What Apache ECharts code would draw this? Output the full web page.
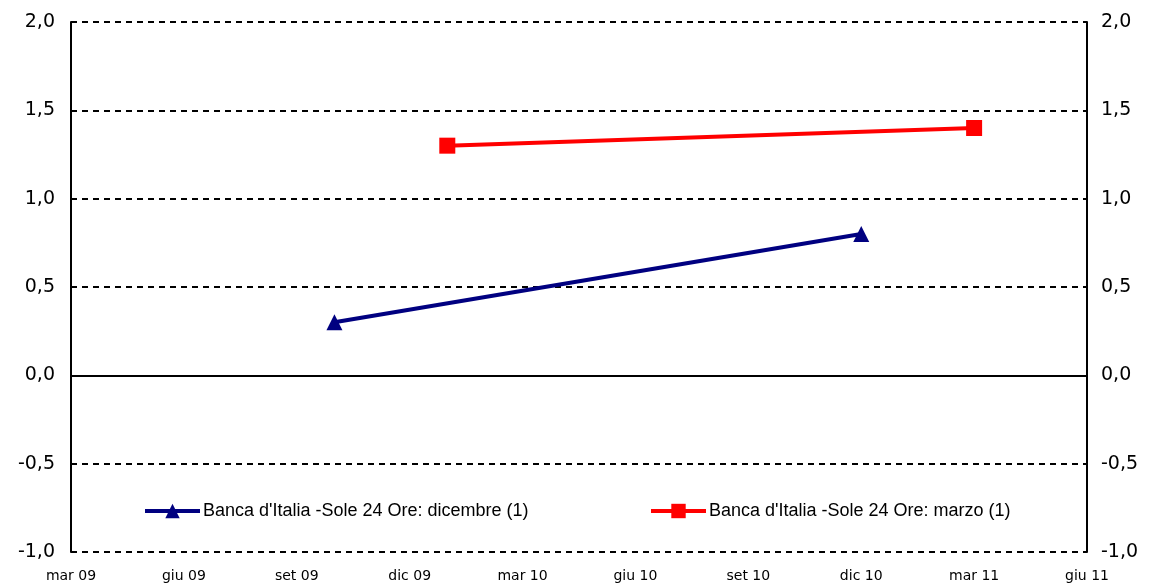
<!DOCTYPE html>
<html><head><meta charset="utf-8">
<script src="https://cdn.jsdelivr.net/npm/echarts@6/dist/echarts.min.js"></script>
<style>html,body{margin:0;padding:0;background:#fff}#c{width:1151px;height:585px}</style>
</head><body><div id="c"></div>
<script>
var months = ["mar 09","apr 09","mag 09","giu 09","lug 09","ago 09","set 09","ott 09","nov 09","dic 09",
  "gen 10","feb 10","mar 10","apr 10","mag 10","giu 10","lug 10","ago 10","set 10","ott 10","nov 10","dic 10",
  "gen 11","feb 11","mar 11","apr 11","mag 11","giu 11"];
var nameDic = "Banca d'Italia -Sole 24 Ore: dicembre (1)";
var nameMar = "Banca d'Italia -Sole 24 Ore: marzo (1)";
var dicPoints = [["ott 09", 0.3], ["dic 10", 0.8]];
var marPoints = [["gen 10", 1.3], ["mar 11", 1.4]];
var yMin = -1, yMax = 2, yStep = 0.5;

function fmt(v){ return v.toFixed(1).replace('.', ','); }
var chart = echarts.init(document.getElementById('c'));
var labelFont = 'DejaVu Sans, Verdana, sans-serif';
var legendFont = 'Liberation Sans, Arial, sans-serif';
chart.setOption({
  animation: false,
  backgroundColor: '#fff',
  grid: {left: 71, right: 64, top: 22, bottom: 33, containLabel: false},
  xAxis: {
    type: 'category', data: months, boundaryGap: false,
    axisLine: {show: false}, axisTick: {show: false},
    axisLabel: {interval: 2, color: '#000', fontSize: 14, fontFamily: labelFont, margin: 17},
    splitLine: {show: false}
  },
  yAxis: [{
    type: 'value', min: yMin, max: yMax, interval: yStep, position: 'left',
    axisLine: {show: true, lineStyle: {color: '#000', width: 2}},
    axisTick: {show: true, inside: true, length: 4, lineStyle: {color: '#000', width: 1}},
    axisLabel: {formatter: fmt, color: '#000', fontSize: 19, fontFamily: labelFont, margin: 16},
    splitLine: {show: true, lineStyle: {color: '#000', width: 2, type: [6, 5]}}
  }, {
    type: 'value', min: yMin, max: yMax, interval: yStep, position: 'right',
    axisLine: {show: true, lineStyle: {color: '#000', width: 2}},
    axisTick: {show: true, inside: true, length: 4, lineStyle: {color: '#000', width: 1}},
    axisLabel: {formatter: fmt, color: '#000', fontSize: 19, fontFamily: labelFont, margin: 14},
    splitLine: {show: false}
  }],
  legend: [{
    data: [nameDic], left: 138, top: 497, itemWidth: 55, itemHeight: 18, itemGap: 0,
    lineStyle: {width: 4},
    textStyle: {fontSize: 18, color: '#000', fontFamily: legendFont, padding: [0,0,0,-2]}
  }, {
    data: [nameMar], left: 644, top: 497, itemWidth: 55, itemHeight: 18, itemGap: 0,
    lineStyle: {width: 4},
    textStyle: {fontSize: 18, color: '#000', fontFamily: legendFont, padding: [0,0,0,-2]}
  }],
  series: [{
    name: nameDic, type: 'line', data: dicPoints, connectNulls: true,
    symbol: 'triangle', symbolSize: 16,
    lineStyle: {color: '#000080', width: 4}, itemStyle: {color: '#000080'},
    markLine: {silent: true, symbol: 'none', label: {show: false},
      lineStyle: {color: '#000', width: 2, type: 'solid'}, data: [{yAxis: 0}]}
  }, {
    name: nameMar, type: 'line', data: marPoints, connectNulls: true,
    symbol: 'rect', symbolSize: 16,
    lineStyle: {color: '#ff0000', width: 4}, itemStyle: {color: '#ff0000'}
  }]
});
</script></body></html>
